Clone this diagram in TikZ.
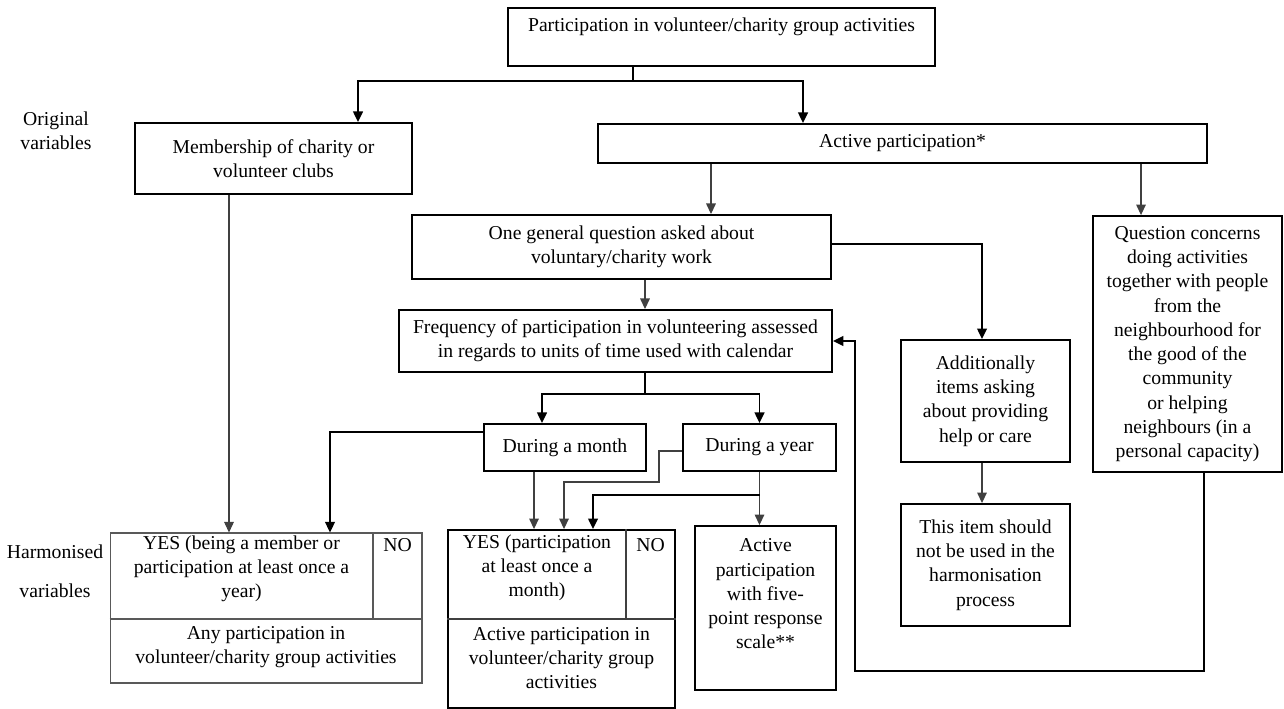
\documentclass[tikz,border=0pt]{standalone}
\usepackage{fontspec}
\setmainfont{Liberation Serif}
\usetikzlibrary{arrows.meta}

\begin{document}
\begin{tikzpicture}[x=0.02cm,y=-0.02cm,font=\fontsize{11.2}{13.8}\selectfont,
    box/.style={draw,line width=1.1pt,inner sep=0pt,align=center},
    cellbox/.style={draw=black!65,line width=0.6pt,inner sep=0pt},
    txt/.style={inner sep=0pt,align=center},
    boldline/.style={line width=1.1pt},
    lightline/.style={line width=0.6pt,draw=black!75},
    arrowed/.style={-{Triangle[length=6pt,width=5.5pt]}}]
      \useasboundingbox (0,0) rectangle (1284,709);
      \node[txt] (origlabel) at (56,131) {Original\\variables};
      \node[txt] (harmlabel) at (55,571) {Harmonised\\[8.3pt]variables};
      \node[box,minimum width=8.54cm,minimum height=1.16cm] (top) at (721.5,37) {};
      \node[txt] (toptext) at (721.5,27) {Participation in volunteer/charity group activities};
      \node[box,minimum width=5.54cm,minimum height=1.42cm] (member) at (273.5,158.5) {Membership of charity or\\volunteer clubs};
      \node[box,minimum width=12.18cm,minimum height=0.78cm] (active) at (902.5,143.5) {Active participation*};
      \node[box,minimum width=8.38cm,minimum height=1.28cm] (general) at (621.5,247) {One general question asked about\\voluntary/charity work};
      \node[box,minimum width=8.66cm,minimum height=1.24cm] (freq) at (615.5,341) {Frequency of participation in volunteering assessed\\in regards to units of time used with calendar};
      \node[box,minimum width=3.24cm,minimum height=0.94cm] (month) at (565,447.5) {During a month};
      \node[box,minimum width=3.06cm,minimum height=0.94cm] (year) at (759.5,447.5) {During a year};
      \node[box,minimum width=3.38cm,minimum height=2.44cm] (addit) at (985.5,401) {Additionally\\items asking\\about providing\\help or care};
      \node[box,minimum width=3.38cm,minimum height=2.44cm] (thisitem) at (985.5,565) {This item should\\not be used in the\\harmonisation\\process};
      \node[box,minimum width=3.78cm,minimum height=5.12cm] (question) at (1187.5,344) {Question concerns\\doing activities\\together with people\\from the\\neighbourhood for\\the good of the\\community\\or helping\\neighbours (in a\\personal capacity)};
      \node[box,minimum width=2.82cm,minimum height=3.28cm] (scale5) at (765.5,608) {};
      \node[txt] (scale5text) at (765.5,594) {Active\\participation\\with five-\\point response\\scale**};
      \node[cellbox,minimum width=6.24cm,minimum height=3cm] (harmany) at (266,608) {};
      \draw[cellbox] (harmany.west |- 0,619) to (harmany.east |- 0,619);
      \draw[cellbox] (harmany.north -| 373,0) to (373,619);
      \node[txt] (anyyes) at (241.5,569) {YES (being a member or\\participation at least once a\\year)};
      \node[txt] (anyno) at (397.5,545) {NO};
      \node[txt] (anylabel) at (266,647) {Any participation in\\volunteer/charity group activities};
      \node[box,minimum width=4.54cm,minimum height=3.56cm] (midtab) at (561.5,619) {};
      \draw[lightline] (midtab.west |- 0,619) to (midtab.east |- 0,619);
      \draw[lightline] (midtab.north -| 626,0) to (626,619);
      \node[txt] (actyes) at (537,568) {YES (participation\\at least once a\\month)};
      \node[txt] (actno) at (650.5,545) {NO};
      \node[txt] (actlabel) at (561.5,658) {Active participation in\\volunteer/charity group\\activities};
      \coordinate (split1) at (633,81);
      \draw[boldline] (top.south -| split1) to (split1);
      \draw[boldline,arrowed] (split1) -| (member.north -| 358,0);
      \draw[boldline,arrowed] (split1) -| (active.north -| 803,0);
      \draw[lightline,arrowed] (active.south -| 711,0) to (general.north -| 711,0);
      \draw[lightline,arrowed] (active.south -| 1141,0) to (question.north -| 1141,0);
      \draw[lightline,arrowed] (member.south -| 229,0) to (harmany.north -| 229,0);
      \draw[lightline,arrowed] (general.south -| 645,0) to (freq.north -| 645,0);
      \draw[boldline,arrowed] (general.east |- 0,244) -| (addit.north -| 982,0);
      \draw[lightline,arrowed] (addit.south -| 982,0) to (thisitem.north -| 982,0);
      \coordinate (split2) at (645,394);
      \draw[boldline] (freq.south -| split2) to (split2);
      \draw[boldline,arrowed] (split2) -| (month.north -| 542,0);
      \draw[boldline,arrowed] (split2) -| (year.north);
      \draw[boldline,arrowed] (month.west |- 0,432) -| (harmany.north -| 330,0);
      \draw[lightline,arrowed] (month.south -| 534,0) to (midtab.north -| 534,0);
      \coordinate (yearbend) at (659,482);
      \draw[lightline,arrowed] (year.west |- 0,451) -| (yearbend) -| (midtab.north -| 564,0);
      \draw[lightline,arrowed] (year.south) to (year.south |- scale5.north);
      \draw[boldline,arrowed] (year.south |- 0,495) -| (midtab.north -| 593,0);
      \coordinate (loopcorner) at (855,671);
      \draw[boldline,arrowed] (question.south -| 1204,0) |- (loopcorner) |- (freq.east);
    \end{tikzpicture}
\end{document}
